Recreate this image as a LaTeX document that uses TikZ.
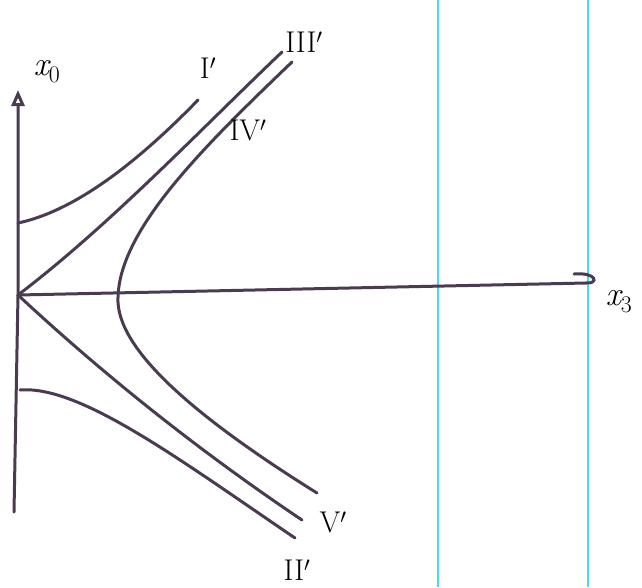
\documentclass[tikz,border=0pt]{standalone}
\usepackage{xcolor}
\usepackage{tikz}
\usetikzlibrary{arrows.meta}
\definecolor{inkpurple}{HTML}{4A3A52}
\definecolor{scancyan}{HTML}{4FD8E0}

\begin{document}
\begin{tikzpicture}[
    x=1pt, y=-1pt,
    axis/.style={
        draw=inkpurple, line width=3pt, line cap=round,
    },
    curve/.style={
        draw=inkpurple, line width=3pt, line cap=round,
    },
    guide/.style={
        draw=scancyan, line width=1.6pt,
    },
    numeral/.style={
        font=\fontsize{30}{32}\selectfont, text=black, inner sep=1pt,
    },
    axislabel/.style={
        font=\fontsize{34}{36}\selectfont, text=black, inner sep=1pt,
    },
]
\useasboundingbox (0,0) rectangle (642,587);

% Guide lines
\draw[guide] (438,0) -- (438,587);
\draw[guide] (588,0) -- (588,587);

% Axes
\coordinate (origin) at (18,295);
\coordinate (top) at (18,90);
\coordinate (bottom) at (14,512);
\coordinate (right) at (586,283);
\coordinate (hooktip) at (574,274);
\draw[axis, -{Triangle[open, length=16pt, width=13pt]}] (bottom) -- (origin) -- (top);
\draw[axis] (origin) -- (right);
\draw[axis] (right) .. controls (599,284) and (597,272) .. (hooktip);

% Light cone
\coordinate (coneup) at (282,52);
\coordinate (conedown) at (302,520);
\draw[curve] (origin) .. controls (110,225) and (200,130) .. (coneup);
\draw[curve] (origin) .. controls (120,390) and (220,465) .. (conedown);

% Timelike hyperbolas
\coordinate (futurestart) at (18,223);
\coordinate (futureend) at (198,100);
\coordinate (paststart) at (20,390);
\coordinate (pastend) at (295,538);
\draw[curve] (futurestart) .. controls (70,212) and (130,170) .. (futureend);
\draw[curve] (paststart) .. controls (80,385) and (180,460) .. (pastend);

% Spacelike hyperbola
\coordinate (apex) at (118,297);
\coordinate (spaceup) at (292,62);
\coordinate (spacedown) at (317,493);
\draw[curve] (spaceup) .. controls (200,150) and (120,230) .. (apex)
    .. controls (115,350) and (200,420) .. (spacedown);

% Labels
\node[axislabel] (xzero) at (47,72) {\itshape x\textsubscript{\upshape 0}};
\node[axislabel] (xthree) at (619,302) {\itshape x\textsubscript{\upshape 3}};
\node[numeral] (one) at (208,68) {I$'$};
\node[numeral] (three) at (304,42) {III$'$};
\node[numeral] (four) at (248,130) {IV$'$};
\node[numeral] (five) at (333,522) {V$'$};
\node[numeral] (two) at (297,570) {II$'$};

\end{tikzpicture}
\end{document}
